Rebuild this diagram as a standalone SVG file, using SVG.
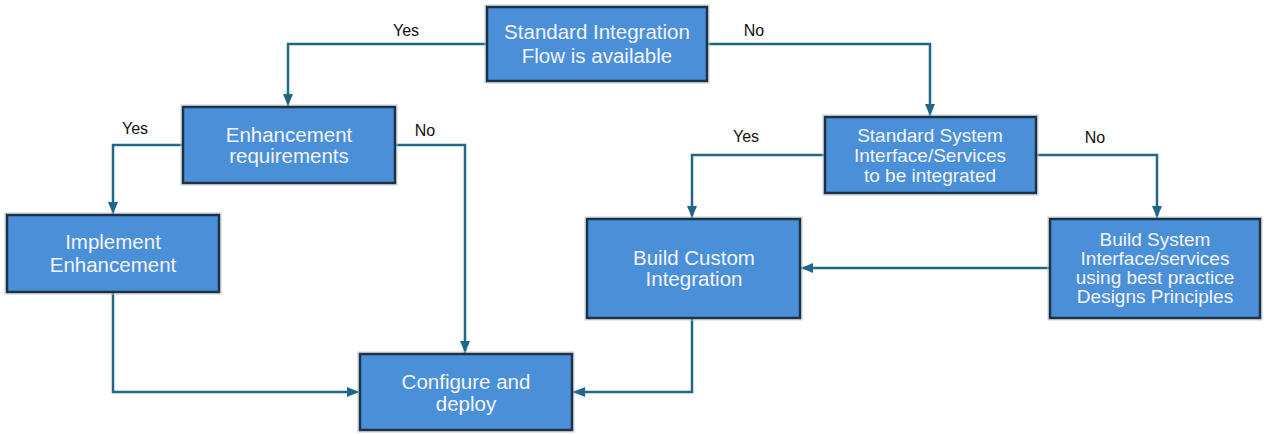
<svg xmlns="http://www.w3.org/2000/svg" width="1264" height="434" viewBox="0 0 1264 434">
  <style>
    .box { fill: #4a90d9; stroke: #1c3346; stroke-width: 2.5; }
    .halo { fill: none; stroke: #c9ced3; stroke-width: 1; }
    .txt { font-family: "Liberation Sans", Arial, sans-serif; font-size: 20.5px; fill: #f4f4ff; text-anchor: middle; }
    .tight { font-size: 19px; }
    .lbl { font-family: "Liberation Sans", Arial, sans-serif; font-size: 16px; fill: #111111; text-anchor: middle; }
    .edge { fill: none; stroke: #1f6987; stroke-width: 2.5; }
  </style>
  <defs>
    <marker id="arrow" viewBox="0 0 12 10" refX="12" refY="5" markerWidth="12" markerHeight="10" markerUnits="userSpaceOnUse" orient="auto">
      <path d="M0,0 L12,5 L0,10 Z" fill="#1f6987"/>
    </marker>
  </defs>
  <rect width="1264" height="434" fill="#ffffff"/>

  <g id="connectors">
    <path class="edge" d="M487,44 H288 V106" marker-end="url(#arrow)"/>
    <path class="edge" d="M707,44 H930 V116" marker-end="url(#arrow)"/>
    <path class="edge" d="M183,145 H113 V214" marker-end="url(#arrow)"/>
    <path class="edge" d="M395,145 H465 V353" marker-end="url(#arrow)"/>
    <path class="edge" d="M113,292 V392 H359" marker-end="url(#arrow)"/>
    <path class="edge" d="M825,155 H692 V218" marker-end="url(#arrow)"/>
    <path class="edge" d="M1036,155 H1157 V218" marker-end="url(#arrow)"/>
    <path class="edge" d="M1050,268 H801" marker-end="url(#arrow)"/>
    <path class="edge" d="M692,318 V392 H573" marker-end="url(#arrow)"/>
    <text class="lbl" x="406" y="36">Yes</text>
    <text class="lbl" x="754" y="36">No</text>
    <text class="lbl" x="135" y="134">Yes</text>
    <text class="lbl" x="425" y="136">No</text>
    <text class="lbl" x="746" y="142">Yes</text>
    <text class="lbl" x="1095" y="143">No</text>
  </g>

  <g id="standard-integration-flow">
    <rect class="halo" x="485" y="5" width="224" height="78"/>
    <rect class="box" x="487" y="7" width="220" height="74"/>
    <text class="txt" x="597" y="39">Standard Integration</text>
    <text class="txt" x="597" y="63">Flow is available</text>
  </g>

  <g id="enhancement-requirements">
    <rect class="halo" x="181" y="105" width="216" height="80"/>
    <rect class="box" x="183" y="107" width="212" height="76"/>
    <text class="txt" x="289" y="142">Enhancement</text>
    <text class="txt" x="289" y="163">requirements</text>
  </g>

  <g id="implement-enhancement">
    <rect class="halo" x="5" y="213" width="216" height="81"/>
    <rect class="box" x="7" y="215" width="212" height="77"/>
    <text class="txt" x="113" y="249">Implement</text>
    <text class="txt" x="113" y="272">Enhancement</text>
  </g>

  <g id="standard-system-interface">
    <rect class="halo" x="823" y="115" width="215" height="80"/>
    <rect class="box" x="825" y="117" width="211" height="76"/>
    <text class="txt tight" x="930" y="142">Standard System</text>
    <text class="txt tight" x="930" y="162">Interface/Services</text>
    <text class="txt tight" x="930" y="182">to be integrated</text>
  </g>

  <g id="build-custom-integration">
    <rect class="halo" x="585" y="217" width="217" height="103"/>
    <rect class="box" x="587" y="219" width="213" height="99"/>
    <text class="txt" x="694" y="265">Build Custom</text>
    <text class="txt" x="694" y="286">Integration</text>
  </g>

  <g id="build-system-interface">
    <rect class="halo" x="1048" y="217" width="214" height="103"/>
    <rect class="box" x="1050" y="219" width="210" height="99"/>
    <text class="txt tight" x="1155" y="246">Build System</text>
    <text class="txt tight" x="1155" y="265">Interface/services</text>
    <text class="txt tight" x="1155" y="284">using best practice</text>
    <text class="txt tight" x="1155" y="303">Designs Principles</text>
  </g>

  <g id="configure-and-deploy">
    <rect class="halo" x="358" y="352" width="216" height="80"/>
    <rect class="box" x="360" y="354" width="212" height="76"/>
    <text class="txt" x="466" y="389">Configure and</text>
    <text class="txt" x="466" y="411">deploy</text>
  </g>
</svg>
